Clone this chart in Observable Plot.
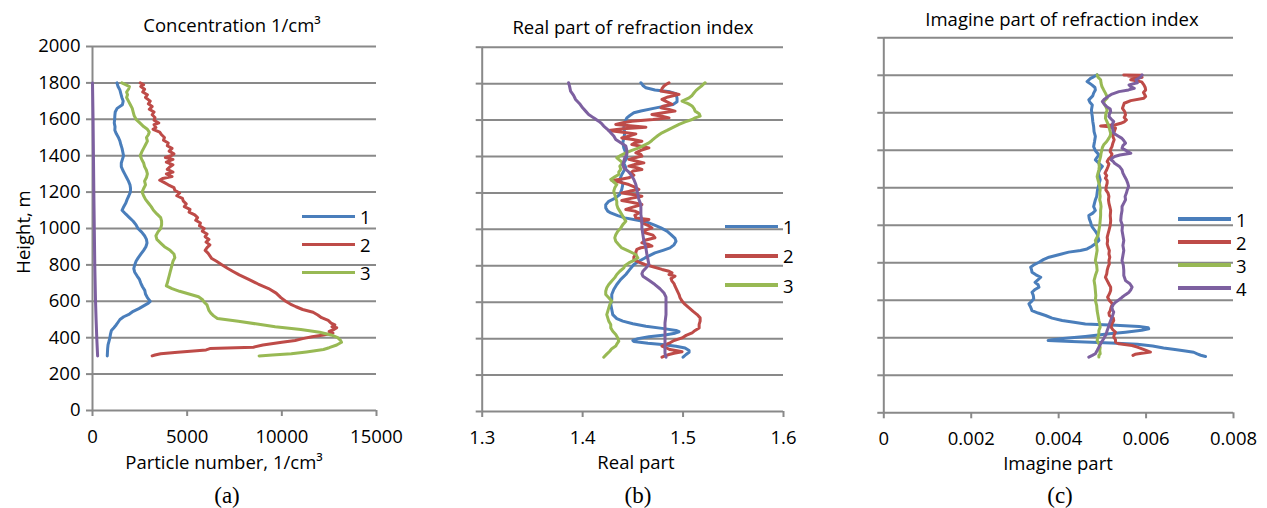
<!DOCTYPE html>
<html><head><meta charset="utf-8">
<script src="https://cdn.jsdelivr.net/npm/d3@7"></script>
<script src="https://cdn.jsdelivr.net/npm/@observablehq/plot@0.6"></script>
<style>
body{margin:0;background:#fff;}
#wrap{position:relative;width:1267px;height:508px;overflow:hidden;font-family:"Open Sans","Noto Sans",sans-serif;background:#fff;}
.panel{position:absolute;top:0;height:508px;}
.panel svg{overflow:visible;}
.t{position:absolute;white-space:nowrap;font-size:18.5px;line-height:1;color:#000;transform:translate(-50%,-50%);}
.cap{font-family:"Liberation Serif","DejaVu Serif",serif;font-size:23px;}
.sw{position:absolute;height:3.5px;}
.lg{position:absolute;font-size:18.5px;white-space:pre;}
</style></head><body><div id="wrap"></div>
<script>
// ---------- data ----------
const heightTicks = [0, 200, 400, 600, 800, 1000, 1200, 1400, 1600, 1800, 2000];
const concTicks = [0, 5000, 10000, 15000];
const realTicks = [1.3, 1.4, 1.5, 1.6];
const imagTicks = [0, 0.002, 0.004, 0.006, 0.008];
const legendA = ["1", "2", "3"];
const legendB = ["1", "2", "3"];
const legendC = ["1", "2", "3", "4"];
const seriesColors = ["#4a7ebb", "#be4b48", "#98b954", "#7d60a0"];

// (a) concentration: [height m, particles 1/cm3]
const conc1 = [[1800,1290],[1780,1350],[1760,1450],[1740,1500],[1720,1550],[1700,1620],[1680,1580],[1660,1300],[1640,1200],[1620,1180],[1600,1170],[1580,1150],[1560,1190],[1540,1180],[1520,1260],[1500,1370],[1480,1450],[1460,1500],[1440,1560],[1420,1600],[1400,1640],[1380,1580],[1360,1520],[1340,1520],[1320,1600],[1300,1700],[1280,1800],[1260,1900],[1240,1980],[1220,2010],[1200,2000],[1180,1920],[1160,1830],[1140,1760],[1120,1650],[1100,1560],[1080,1750],[1060,1950],[1040,2150],[1020,2300],[1000,2400],[980,2600],[960,2750],[940,2850],[920,2880],[900,2820],[880,2700],[860,2560],[840,2420],[820,2300],[800,2230],[780,2180],[760,2230],[740,2350],[720,2480],[700,2550],[680,2640],[660,2760],[640,2800],[620,2900],[600,3050],[590,2950],[575,2700],[560,2450],[545,2150],[530,1950],[515,1650],[500,1450],[485,1350],[470,1250],[455,1130],[440,1000],[420,950],[400,920],[380,870],[360,820],[340,800],[320,790],[300,780]];
const conc2 = [[1800,2520],[1790,2700],[1780,2550],[1765,2750],[1750,2650],[1735,2900],[1720,2800],[1700,3050],[1685,2950],[1670,3150],[1655,3000],[1640,3250],[1625,3150],[1610,3300],[1595,3250],[1580,3500],[1570,3250],[1555,3350],[1545,3200],[1530,3550],[1515,3650],[1500,3800],[1485,3750],[1470,4000],[1455,3950],[1440,4200],[1425,4050],[1410,4300],[1400,4150],[1390,3850],[1380,4250],[1365,3900],[1350,4250],[1340,4100],[1325,3950],[1310,4250],[1300,3900],[1285,4200],[1275,3700],[1265,3550],[1255,3750],[1240,4000],[1225,4300],[1210,4350],[1195,4600],[1180,4450],[1165,4750],[1150,4800],[1135,4950],[1120,4850],[1105,5150],[1090,5100],[1075,5400],[1060,5550],[1045,5450],[1030,5700],[1015,5650],[1000,5900],[985,5800],[970,6050],[955,5950],[940,6150],[925,6000],[910,6200],[895,6050],[880,5950],[865,6100],[850,6200],[835,6300],[820,6550],[800,6850],[780,7150],[765,7400],[745,7750],[720,8250],[695,8750],[670,9300],[645,9700],[620,9950],[600,10200],[585,10450],[570,10750],[555,11100],[540,11650],[525,11900],[510,12100],[495,12450],[480,12600],[470,12800],[460,12650],[455,12900],[445,12750],[435,12500],[425,12700],[415,12200],[405,11600],[395,11100],[385,10700],[375,10000],[360,9000],[348,8500],[340,6200],[333,6000],[320,4500],[312,3600],[305,3300],[300,3150]];
const conc3 = [[1800,1550],[1790,1750],[1780,1950],[1765,1900],[1750,1800],[1735,1850],[1720,1800],[1700,1900],[1680,2000],[1660,2100],[1640,2150],[1620,2200],[1600,2300],[1580,2500],[1560,2700],[1545,2900],[1530,3000],[1515,2950],[1500,2850],[1480,2900],[1460,2800],[1440,2700],[1420,2600],[1400,2520],[1380,2600],[1360,2700],[1340,2750],[1320,2850],[1300,2900],[1280,2850],[1260,2750],[1240,2800],[1220,2700],[1200,2620],[1180,2700],[1160,2800],[1140,2950],[1120,3100],[1100,3220],[1080,3400],[1060,3600],[1040,3650],[1020,3650],[1000,3600],[980,3450],[960,3350],[940,3400],[920,3600],[900,3800],[880,4100],[860,4300],[840,4350],[820,4250],[800,4200],[780,4150],[760,4100],[740,4050],[720,4000],[700,3950],[685,3900],[670,4200],[655,4600],[640,5100],[625,5600],[610,5800],[595,5900],[580,6050],[565,6100],[550,6150],[535,6250],[520,6400],[505,6600],[490,7700],[475,8700],[460,9650],[445,11000],[430,12000],[415,12600],[400,12950],[385,13100],[375,13150],[360,12900],[345,12500],[335,12200],[322,11300],[312,10500],[305,9500],[300,8800]];
const conc4 = [[1800,0],[1600,30],[1400,50],[1200,70],[1000,95],[800,120],[600,160],[500,190],[400,225],[300,270]];

// (b) real part: [height m, real part]
const real1 = [[1805,1.458],[1790,1.460],[1777,1.463],[1765,1.472],[1755,1.487],[1745,1.493],[1720,1.494],[1700,1.494],[1685,1.490],[1667,1.473],[1650,1.458],[1640,1.451],[1625,1.447],[1612,1.444],[1590,1.442],[1557,1.441],[1530,1.442],[1502,1.441],[1475,1.440],[1447,1.441],[1420,1.443],[1393,1.444],[1365,1.441],[1338,1.443],[1320,1.441],[1301,1.439],[1275,1.437],[1246,1.440],[1220,1.439],[1191,1.437],[1170,1.432],[1154,1.426],[1135,1.423],[1118,1.423],[1100,1.425],[1090,1.428],[1075,1.435],[1063,1.442],[1050,1.455],[1040,1.464],[1025,1.471],[1008,1.478],[990,1.484],[971,1.488],[950,1.492],[935,1.493],[915,1.491],[898,1.487],[885,1.480],[871,1.472],[857,1.467],[843,1.462],[825,1.456],[807,1.451],[780,1.447],[752,1.443],[725,1.438],[697,1.434],[670,1.431],[642,1.429],[615,1.429],[587,1.428],[560,1.429],[532,1.430],[510,1.434],[496,1.440],[482,1.450],[468,1.463],[455,1.481],[445,1.493],[438,1.496],[430,1.492],[420,1.482],[410,1.466],[400,1.455],[390,1.450],[384,1.451],[375,1.465],[368,1.479],[358,1.493],[349,1.502],[335,1.506],[325,1.506],[313,1.503],[298,1.500]];
const real2 = [[1805,1.486],[1795,1.483],[1787,1.481],[1772,1.479],[1759,1.478],[1750,1.488],[1741,1.496],[1727,1.485],[1713,1.479],[1700,1.484],[1686,1.489],[1676,1.480],[1667,1.478],[1658,1.486],[1649,1.492],[1640,1.480],[1631,1.469],[1622,1.478],[1612,1.486],[1603,1.470],[1594,1.449],[1585,1.440],[1576,1.433],[1567,1.450],[1561,1.463],[1552,1.440],[1543,1.426],[1533,1.440],[1524,1.453],[1512,1.446],[1502,1.439],[1493,1.450],[1484,1.459],[1475,1.452],[1466,1.449],[1456,1.458],[1447,1.466],[1434,1.458],[1420,1.453],[1411,1.458],[1402,1.459],[1393,1.452],[1384,1.446],[1375,1.453],[1365,1.461],[1356,1.452],[1347,1.446],[1338,1.454],[1329,1.459],[1320,1.450],[1310,1.448],[1297,1.451],[1283,1.446],[1275,1.438],[1268,1.429],[1258,1.438],[1246,1.446],[1232,1.452],[1219,1.456],[1210,1.447],[1200,1.439],[1191,1.450],[1182,1.459],[1170,1.448],[1158,1.439],[1147,1.450],[1136,1.459],[1122,1.450],[1109,1.443],[1100,1.452],[1090,1.456],[1077,1.452],[1063,1.453],[1054,1.466],[1045,1.459],[1036,1.459],[1022,1.465],[1008,1.469],[995,1.462],[981,1.462],[968,1.470],[954,1.472],[940,1.462],[926,1.459],[917,1.466],[908,1.469],[899,1.458],[890,1.454],[875,1.453],[862,1.453],[848,1.451],[834,1.451],[820,1.456],[807,1.462],[795,1.470],[780,1.479],[770,1.486],[761,1.489],[752,1.486],[743,1.492],[730,1.488],[716,1.489],[702,1.491],[688,1.492],[665,1.494],[642,1.496],[624,1.497],[606,1.499],[588,1.502],[569,1.506],[550,1.510],[532,1.514],[514,1.517],[496,1.517],[478,1.516],[459,1.516],[445,1.512],[432,1.509],[418,1.503],[404,1.499],[390,1.491],[377,1.487],[368,1.483],[359,1.479],[350,1.483],[340,1.487],[334,1.494],[328,1.499],[320,1.491],[313,1.486],[305,1.482],[298,1.479]];
const real3 = [[1805,1.522],[1790,1.519],[1777,1.516],[1763,1.513],[1750,1.511],[1735,1.509],[1722,1.506],[1704,1.499],[1690,1.505],[1677,1.509],[1663,1.511],[1649,1.512],[1635,1.516],[1622,1.517],[1612,1.512],[1603,1.509],[1590,1.502],[1576,1.496],[1557,1.489],[1543,1.484],[1530,1.479],[1515,1.475],[1502,1.472],[1488,1.469],[1475,1.466],[1461,1.461],[1447,1.456],[1434,1.449],[1420,1.443],[1406,1.438],[1393,1.434],[1379,1.437],[1365,1.440],[1347,1.437],[1329,1.438],[1315,1.436],[1301,1.436],[1288,1.432],[1274,1.428],[1260,1.431],[1246,1.434],[1228,1.432],[1210,1.431],[1191,1.432],[1173,1.433],[1154,1.434],[1136,1.434],[1118,1.435],[1100,1.437],[1082,1.439],[1063,1.441],[1044,1.443],[1026,1.440],[1008,1.438],[990,1.435],[971,1.433],[953,1.432],[935,1.433],[916,1.436],[898,1.439],[880,1.446],[862,1.453],[843,1.455],[830,1.451],[816,1.446],[800,1.442],[789,1.441],[770,1.437],[752,1.434],[735,1.432],[716,1.429],[697,1.426],[679,1.424],[660,1.423],[642,1.423],[624,1.426],[606,1.429],[587,1.427],[569,1.426],[550,1.425],[532,1.424],[514,1.425],[496,1.426],[478,1.428],[459,1.428],[441,1.430],[423,1.433],[404,1.435],[386,1.436],[370,1.434],[359,1.433],[345,1.429],[331,1.427],[315,1.424],[298,1.421]];
const real4 = [[1805,1.386],[1785,1.387],[1759,1.388],[1736,1.391],[1713,1.393],[1690,1.397],[1667,1.400],[1649,1.403],[1631,1.406],[1612,1.411],[1594,1.416],[1580,1.419],[1567,1.421],[1548,1.425],[1530,1.428],[1512,1.431],[1493,1.433],[1475,1.438],[1457,1.443],[1434,1.444],[1411,1.444],[1393,1.442],[1374,1.441],[1356,1.440],[1338,1.441],[1320,1.445],[1301,1.448],[1274,1.451],[1246,1.453],[1218,1.454],[1191,1.455],[1164,1.456],[1136,1.458],[1109,1.458],[1082,1.458],[1045,1.459],[1008,1.459],[971,1.460],[935,1.461],[898,1.463],[862,1.464],[835,1.465],[807,1.466],[788,1.463],[770,1.460],[756,1.459],[743,1.460],[720,1.466],[697,1.472],[674,1.477],[651,1.481],[628,1.483],[606,1.483],[569,1.483],[532,1.483],[486,1.482],[441,1.482],[395,1.482],[349,1.482],[320,1.482],[298,1.483]];

// (c) imaginary part: [height m, imaginary part]
const imag1 = [[1802,0.00488],[1792,0.00480],[1784,0.00473],[1767,0.00465],[1749,0.00476],[1735,0.00483],[1722,0.00484],[1705,0.00480],[1690,0.00478],[1669,0.00469],[1655,0.00472],[1642,0.00477],[1615,0.00475],[1595,0.00476],[1580,0.00477],[1555,0.00478],[1527,0.00480],[1500,0.00481],[1474,0.00484],[1445,0.00482],[1420,0.00480],[1398,0.00484],[1376,0.00492],[1360,0.00487],[1349,0.00484],[1331,0.00492],[1314,0.00500],[1296,0.00494],[1278,0.00491],[1260,0.00493],[1243,0.00495],[1225,0.00493],[1207,0.00491],[1190,0.00489],[1172,0.00488],[1154,0.00487],[1136,0.00484],[1118,0.00482],[1100,0.00480],[1079,0.00484],[1065,0.00478],[1052,0.00469],[1035,0.00470],[1017,0.00473],[1000,0.00475],[990,0.00477],[972,0.00483],[954,0.00488],[936,0.00490],[919,0.00492],[901,0.00484],[887,0.00475],[874,0.00465],[866,0.00450],[857,0.00423],[843,0.00400],[830,0.00378],[817,0.00365],[803,0.00355],[790,0.00344],[776,0.00336],[763,0.00338],[750,0.00339],[736,0.00348],[723,0.00359],[710,0.00353],[696,0.00346],[683,0.00353],[670,0.00355],[656,0.00345],[643,0.00339],[626,0.00342],[608,0.00343],[594,0.00338],[581,0.00332],[563,0.00336],[545,0.00339],[532,0.00353],[519,0.00370],[505,0.00385],[492,0.00408],[483,0.00435],[474,0.00461],[467,0.00530],[460,0.00584],[454,0.00605],[448,0.00606],[440,0.00590],[430,0.00553],[420,0.00510],[407,0.00461],[396,0.00410],[390,0.00385],[386,0.00376],[380,0.00430],[372,0.00520],[366,0.00580],[356,0.00615],[346,0.00640],[338,0.00666],[330,0.00690],[323,0.00709],[314,0.00717],[307,0.00725],[300,0.00736]];
const imag2 = [[1802,0.00549],[1800,0.00590],[1796,0.00560],[1790,0.00591],[1782,0.00575],[1776,0.00565],[1765,0.00590],[1749,0.00595],[1735,0.00598],[1722,0.00599],[1708,0.00594],[1696,0.00597],[1687,0.00599],[1678,0.00595],[1665,0.00565],[1651,0.00550],[1638,0.00548],[1624,0.00546],[1607,0.00551],[1589,0.00553],[1575,0.00550],[1562,0.00555],[1552,0.00550],[1544,0.00542],[1536,0.00530],[1530,0.00496],[1527,0.00510],[1522,0.00527],[1518,0.00530],[1505,0.00528],[1491,0.00526],[1474,0.00524],[1456,0.00527],[1438,0.00524],[1420,0.00522],[1406,0.00519],[1393,0.00518],[1380,0.00522],[1367,0.00520],[1353,0.00514],[1340,0.00511],[1327,0.00515],[1314,0.00513],[1296,0.00510],[1278,0.00506],[1265,0.00510],[1251,0.00507],[1238,0.00511],[1225,0.00511],[1207,0.00509],[1189,0.00508],[1172,0.00513],[1154,0.00515],[1136,0.00514],[1118,0.00515],[1100,0.00517],[1079,0.00519],[1052,0.00518],[1025,0.00519],[999,0.00518],[972,0.00515],[954,0.00513],[936,0.00511],[919,0.00512],[901,0.00511],[884,0.00513],[866,0.00516],[847,0.00515],[830,0.00517],[812,0.00515],[794,0.00516],[777,0.00513],[759,0.00511],[741,0.00510],[723,0.00507],[705,0.00511],[687,0.00515],[670,0.00519],[652,0.00519],[634,0.00516],[616,0.00512],[599,0.00516],[581,0.00523],[563,0.00520],[545,0.00518],[532,0.00515],[519,0.00516],[505,0.00525],[492,0.00526],[475,0.00522],[457,0.00520],[443,0.00524],[430,0.00530],[416,0.00527],[403,0.00526],[390,0.00530],[377,0.00530],[368,0.00538],[359,0.00568],[350,0.00580],[341,0.00591],[333,0.00600],[324,0.00610],[318,0.00590],[312,0.00575],[306,0.00570]];
const imag3 = [[1802,0.00488],[1790,0.00490],[1776,0.00496],[1758,0.00497],[1740,0.00499],[1722,0.00503],[1705,0.00507],[1690,0.00510],[1678,0.00511],[1665,0.00505],[1651,0.00503],[1633,0.00508],[1615,0.00511],[1595,0.00508],[1571,0.00507],[1550,0.00511],[1527,0.00515],[1508,0.00517],[1491,0.00519],[1478,0.00518],[1465,0.00515],[1447,0.00510],[1429,0.00503],[1415,0.00500],[1402,0.00499],[1384,0.00497],[1367,0.00496],[1349,0.00494],[1331,0.00492],[1314,0.00493],[1296,0.00492],[1278,0.00490],[1260,0.00488],[1243,0.00490],[1225,0.00492],[1207,0.00494],[1189,0.00495],[1172,0.00494],[1154,0.00495],[1136,0.00494],[1118,0.00496],[1100,0.00497],[1079,0.00496],[1052,0.00496],[1025,0.00495],[999,0.00494],[972,0.00492],[946,0.00490],[919,0.00484],[892,0.00487],[866,0.00488],[839,0.00486],[812,0.00484],[786,0.00487],[759,0.00488],[732,0.00484],[705,0.00481],[678,0.00483],[652,0.00484],[625,0.00485],[599,0.00484],[572,0.00487],[545,0.00488],[519,0.00490],[492,0.00492],[475,0.00494],[457,0.00495],[439,0.00492],[421,0.00492],[403,0.00490],[386,0.00488],[368,0.00492],[350,0.00495],[332,0.00494],[315,0.00495],[306,0.00492],[297,0.00492]];
const imag4 = [[1802,0.00591],[1790,0.00587],[1776,0.00577],[1760,0.00580],[1749,0.00561],[1740,0.00565],[1731,0.00573],[1722,0.00560],[1713,0.00538],[1700,0.00522],[1687,0.00513],[1673,0.00505],[1660,0.00500],[1647,0.00504],[1633,0.00510],[1620,0.00518],[1607,0.00519],[1593,0.00516],[1580,0.00515],[1567,0.00520],[1553,0.00526],[1540,0.00523],[1527,0.00522],[1509,0.00524],[1491,0.00526],[1478,0.00535],[1465,0.00544],[1452,0.00549],[1438,0.00553],[1425,0.00547],[1411,0.00545],[1398,0.00555],[1384,0.00565],[1375,0.00540],[1367,0.00528],[1358,0.00522],[1349,0.00520],[1340,0.00525],[1331,0.00528],[1314,0.00539],[1296,0.00545],[1278,0.00547],[1260,0.00551],[1243,0.00555],[1225,0.00558],[1207,0.00560],[1189,0.00557],[1172,0.00555],[1154,0.00552],[1136,0.00553],[1118,0.00549],[1100,0.00545],[1079,0.00545],[1052,0.00543],[1025,0.00542],[999,0.00546],[972,0.00545],[946,0.00547],[919,0.00549],[892,0.00547],[866,0.00549],[839,0.00547],[812,0.00545],[786,0.00548],[759,0.00549],[732,0.00549],[705,0.00553],[688,0.00563],[670,0.00568],[656,0.00565],[643,0.00561],[630,0.00553],[616,0.00545],[603,0.00538],[590,0.00530],[577,0.00525],[563,0.00522],[550,0.00523],[537,0.00526],[523,0.00524],[510,0.00522],[492,0.00519],[474,0.00516],[457,0.00514],[439,0.00511],[421,0.00509],[412,0.00507],[395,0.00503],[377,0.00498],[359,0.00494],[350,0.00492],[332,0.00488],[315,0.00484],[306,0.00477],[297,0.00469]];

// ---------- drawing ----------
const GRID = "#898989";
const FONT = '"Open Sans","Noto Sans",sans-serif';
const wrap = document.getElementById("wrap");

function panel(opts) {
  const div = document.createElement("div");
  div.className = "panel";
  div.style.left = opts.left + "px";
  div.style.width = opts.width + "px";
  const lines = opts.series.map((s, i) =>
    Plot.line(s.map(([h, v]) => ({h, v})), {
      x: "v", y: "h", stroke: seriesColors[i], strokeWidth: 3,
      strokeLinejoin: "round", strokeLinecap: "round"
    }));
  const chart = Plot.plot({
    width: opts.width, height: 508,
    marginLeft: opts.ml, marginRight: opts.mr, marginTop: opts.mt, marginBottom: opts.mb,
    x: {domain: opts.xDomain}, y: {domain: [0, 2000]},
    style: {fontFamily: FONT, fontSize: "18.5px", color: "#000", background: "transparent", overflow: "visible"},
    marks: [
      Plot.ruleY(heightTicks, {stroke: GRID, strokeWidth: 2}),
      Plot.ruleX([opts.xDomain[0]], {stroke: GRID, strokeWidth: 2}),
      Plot.axisY({ticks: heightTicks, tickSize: 6, tickPadding: 6, label: null,
        tickFormat: opts.yLabels ? (d => String(d)) : (() => ""),
        stroke: GRID, strokeWidth: 2, fill: "#000"}),
      Plot.axisX({ticks: opts.xTicks, tickSize: 6, tickPadding: 13, label: null,
        tickFormat: d => String(d), stroke: GRID, strokeWidth: 2, fill: "#000"}),
      ...lines
    ]
  });
  div.appendChild(chart);
  wrap.appendChild(div);
}

panel({left: 0, width: 420, ml: 92, mr: 44, mt: 46, mb: 98, xDomain: [0, 15000], xTicks: concTicks, yLabels: true, series: [conc1, conc2, conc3, conc4]});
panel({left: 420, width: 420, ml: 61.7, mr: 57, mt: 46.7, mb: 97, xDomain: [1.3, 1.6], xTicks: realTicks, yLabels: false, series: [real1, real2, real3, real4]});
panel({left: 840, width: 427, ml: 43.3, mr: 34, mt: 37.3, mb: 95.7, xDomain: [0, 0.008], xTicks: imagTicks, yLabels: false, series: [imag1, imag2, imag3, imag4]});

function text(str, x, y, cls, extra) {
  const d = document.createElement("div");
  d.className = "t" + (cls ? " " + cls : "");
  d.textContent = str;
  d.style.left = x + "px";
  d.style.top = y + "px";
  if (extra) d.style.transform = extra;
  wrap.appendChild(d);
}
text("Concentration 1/cm\u00B3", 232, 25);
text("Real part of refraction index", 633, 27);
text("Imagine part of refraction index", 1062, 19);
text("Height, m", 23, 232, "", "translate(-50%,-50%) rotate(-90deg)");
text("Particle number, 1/cm\u00B3", 224, 462);
text("Real part", 636, 462);
text("Imagine part", 1058, 463);
text("(a)", 227, 495, "cap");
text("(b)", 638, 495, "cap");
text("(c)", 1060, 495, "cap");

// legend: swatches plus one text block whose line height equals the row spacing
function legend(labels, x0, y0, step) {
  labels.forEach((lab, i) => {
    const sw = document.createElement("div");
    sw.className = "sw";
    sw.style.left = x0 + "px";
    sw.style.top = (y0 + i * step - 1.75) + "px";
    sw.style.width = "53px";
    sw.style.background = seriesColors[i];
    wrap.appendChild(sw);
  });
  const t = document.createElement("div");
  t.className = "lg";
  t.textContent = labels.join("\n");
  t.style.lineHeight = step + "px";
  t.style.left = (x0 + 58) + "px";
  t.style.top = (y0 - step / 2) + "px";
  wrap.appendChild(t);
}
legend(legendA, 302, 216.7, 28);
legend(legendB, 725, 226.7, 29.2);
legend(legendC, 1178, 219, 23);
</script></body></html>
